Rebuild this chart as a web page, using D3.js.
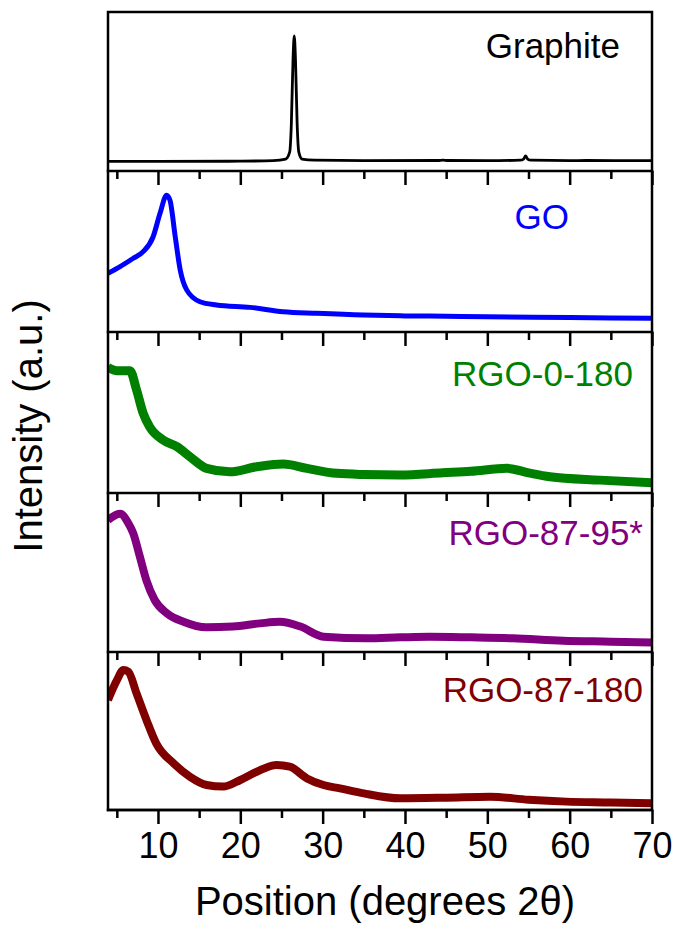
<!DOCTYPE html>
<html>
<head>
<meta charset="utf-8">
<script src="https://cdn.jsdelivr.net/npm/d3@7"></script>
<style>
  body { margin: 0; background: #fff; }
  text { font-family: "Liberation Sans", Arial, sans-serif; }
</style>
</head>
<body>
<div id="xrd_plot"></div>
<script>
// sample names, top to bottom
var samples = ["Graphite", "GO", "RGO-0-180", "RGO-87-95*", "RGO-87-180"];

// 2theta (deg) and intensity (a.u., 0-100 within each panel)
var graphiteX = [4, 10, 20, 24, 25.5, 26, 26.2, 26.4, 26.55, 26.7, 26.9, 27.1, 27.5, 29, 35, 44, 44.6, 45.2, 50, 54, 54.4, 54.65, 54.9, 55.3, 60, 62, 70];
var graphiteY = [6, 6, 6.2, 6.5, 7.5, 12, 30, 70, 85, 70, 30, 12, 7.5, 6.8, 6.5, 6.6, 6.9, 6.6, 6.5, 6.8, 7.5, 9.5, 7.5, 6.8, 6.5, 6.6, 6.5];

var goX = [3.93, 5.4, 7.0, 8.2, 9.4, 10.25, 11.05, 11.45, 12.1, 12.7, 13.5, 15.1, 17.1, 21.2, 25.2, 29.3, 35, 40, 45, 50, 60, 70];
var goY = [36.5, 40.6, 45.8, 49.9, 59, 73.7, 85, 82, 59, 38.5, 26, 18.8, 16.8, 15.3, 12.6, 11.6, 10.5, 10, 9.8, 9.5, 9, 8.5];

var rgo0X = [3.93, 5.0, 5.8, 6.6, 7.4, 8.2, 9.0, 10.6, 12.3, 13.9, 15.9, 18.7, 22, 25.2, 28.1, 31.7, 35, 39.4, 44.6, 48, 52.4, 55, 57.6, 63.7, 70];
var rgo0Y = [78, 76, 76, 76, 64, 49.5, 41, 33, 28.8, 22.5, 15.3, 13.2, 16.3, 18, 15.3, 12.2, 11.5, 11.2, 12.6, 13.5, 15.3, 12.5, 10.1, 8, 6.4];

var rgo95X = [3.93, 5.4, 6.4, 7.0, 7.8, 8.6, 9.6, 11.1, 13.1, 15.9, 19.1, 22.4, 24.8, 27.3, 30.1, 35.4, 39.4, 43, 48, 53.1, 59.2, 65, 70];
var rgo95Y = [83, 87, 81, 74.6, 60, 45, 32.7, 24.3, 19, 15.5, 16, 18, 19, 16, 9.6, 8.6, 9.2, 9.6, 9.2, 8.6, 7.1, 6.5, 5.9];

var rgo180X = [3.93, 5.0, 5.8, 6.4, 7.4, 8.6, 9.8, 11.9, 13.9, 15.9, 17.9, 20, 22, 24.4, 26, 28.1, 30.1, 32.1, 35, 39.4, 45, 50.3, 55, 59.6, 65, 70];
var rgo180Y = [69.6, 82, 88.6, 87.5, 73.8, 57, 42, 29.5, 21, 15.8, 14.8, 19, 24.2, 28.5, 27.4, 20, 15.8, 13.7, 10.5, 7.4, 7.8, 8.4, 6.5, 5.3, 4.8, 4.2];

// x axis ticks
var majorTicks = [10, 20, 30, 40, 50, 60, 70];
var minorTicks = [5, 15, 25, 35, 45, 55, 65];

var seriesX = [graphiteX, goX, rgo0X, rgo95X, rgo180X];
var seriesY = [graphiteY, goY, rgo0Y, rgo95Y, rgo180Y];

// look
var colors = ["#000000", "#0000ff", "#008000", "#800080", "#800000"];
var lineWidths = [2.8, 5, 9, 8, 8];
var labelX = [620, 569, 633, 643, 643];   // right end of the label, px
var labelY = [58, 229, 386, 545, 702];    // baseline, px

var width = 677, height = 940;
var left = 108, right = 652;
var panelTop = [12, 171, 332, 493, 652];
var panelBottom = [171, 332, 493, 652, 810];

var svg = d3.select("#xrd_plot")
  .append("svg")
    .attr("width", width)
    .attr("height", height);

var x = d3.scaleLinear()
  .domain([3.93, 70])
  .range([left, right]);

samples.forEach(function(name, i) {
  var y = d3.scaleLinear()
    .domain([0, 100])
    .range([panelBottom[i], panelTop[i]]);

  var data = seriesX[i].map(function(v, k) { return {pos: v, val: seriesY[i][k]}; });

  svg.append("clipPath")
      .attr("id", "clip" + i)
    .append("rect")
      .attr("x", left)
      .attr("y", panelTop[i])
      .attr("width", right - left)
      .attr("height", panelBottom[i] - panelTop[i]);

  svg.append("path")
    .datum(data)
    .attr("clip-path", "url(#clip" + i + ")")
    .attr("fill", "none")
    .attr("stroke", colors[i])
    .attr("stroke-width", lineWidths[i])
    .attr("stroke-linejoin", "round")
    .attr("d", d3.line()
      .curve(d3.curveMonotoneX)
      .x(function(d) { return x(d.pos); })
      .y(function(d) { return y(d.val); }));

  svg.append("text")
    .attr("x", labelX[i])
    .attr("y", labelY[i])
    .attr("text-anchor", "end")
    .attr("font-size", 35)
    .attr("fill", colors[i])
    .text(name);

  // bottom axis of the panel: major + minor ticks, outward
  var last = i === samples.length - 1;
  var major = svg.append("g")
    .attr("transform", "translate(0," + panelBottom[i] + ")")
    .call(d3.axisBottom(x)
      .tickValues(majorTicks)
      .tickSize(14)
      .tickPadding(8)
      .tickFormat(last ? d3.format("d") : ""));
  var minor = svg.append("g")
    .attr("transform", "translate(0," + panelBottom[i] + ")")
    .call(d3.axisBottom(x)
      .tickValues(minorTicks)
      .tickSize(8)
      .tickFormat(""));
  [major, minor].forEach(function(g) {
    g.select(".domain").remove();
    g.selectAll(".tick line").attr("stroke", "#000").attr("stroke-width", 2.5);
  });
  major.selectAll(".tick text")
    .attr("font-size", 36)
    .attr("fill", "#000")
    .attr("font-family", "'Liberation Sans', Arial, sans-serif");

  svg.append("line")
    .attr("x1", left - 1.25).attr("x2", right + 1.25)
    .attr("y1", panelBottom[i]).attr("y2", panelBottom[i])
    .attr("stroke", "#000").attr("stroke-width", 2.5);
});

// frame
svg.append("rect")
  .attr("x", left)
  .attr("y", panelTop[0])
  .attr("width", right - left)
  .attr("height", panelBottom[samples.length - 1] - panelTop[0])
  .attr("fill", "none")
  .attr("stroke", "#000")
  .attr("stroke-width", 2.5);

// axis titles
svg.append("text")
  .attr("x", 385)
  .attr("y", 915)
  .attr("text-anchor", "middle")
  .attr("font-size", 40)
  .text("Position (degrees 2\u03b8)");

svg.append("text")
  .attr("transform", "translate(42," + ((panelTop[0] + panelBottom[4]) / 2 + 15) + ") rotate(-90)")
  .attr("text-anchor", "middle")
  .attr("font-size", 40)
  .text("Intensity (a.u.)");
</script>
</body>
</html>
